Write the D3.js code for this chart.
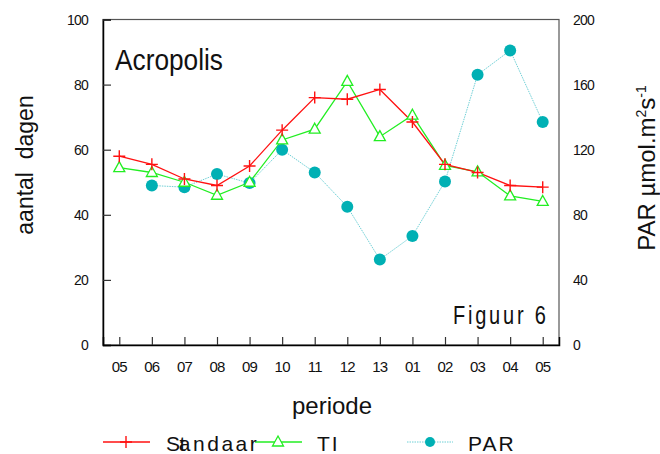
<!DOCTYPE html>
<html>
<head>
<meta charset="utf-8">
<script src="https://cdn.jsdelivr.net/npm/d3@7"></script>
<style>
  body { margin: 0; background: #fff; }
  svg { display: block; font-family: "Liberation Sans", Arial, sans-serif; }
</style>
</head>
<body>
<svg></svg>
<script>
// periodes (maanden) langs de x-as
const periodes = ["05", "06", "07", "08", "09", "10", "11", "12", "13", "01", "02", "03", "04", "05"];
// aantal dagen per reeks
const standaard = [58, 55.5, 51, 49, 55, 66, 76, 75.5, 78.5, 68.5, 55.5, 53, 49, 48.5];
const ti = [54.5, 53, 50, 46, 50, 63, 66.3, 81, 64, 70.6, 55.2, 53.2, 45.8, 44.1];
// PAR in µmol.m-2s-1 (eerste periode geen meting)
const par = [null, 98, 97, 105, 99.5, 120, 106, 85, 52.5, 67, 100.5, 166, 181, 137];
const yTicks = [0, 20, 40, 60, 80, 100];
const parTicks = [0, 40, 80, 120, 160, 200];

const width = 660;
const height = 454;
const plotL = 103, plotR = 559, plotT = 19.5, plotB = 345;

let svg = d3.select("svg")
    .attr("width", width)
    .attr("height", height);

let x = d3.scalePoint()
    .domain(d3.range(periodes.length))
    .range([plotL, plotR])
    .padding(0.5);

let y = d3.scaleLinear().domain([0, 100]).range([plotB, plotT]);
let y2 = d3.scaleLinear().domain([0, 200]).range([plotB, plotT]);

// kader: boven en rechts grijs, links en onder zwart
svg.append("rect")
    .attr("x", plotL).attr("y", plotT)
    .attr("width", plotR - plotL).attr("height", plotB - plotT)
    .style("fill", "none")
    .style("stroke", "#555")
    .style("stroke-width", 1.2);

// linker as, ticks naar binnen
let yAxis = svg.append("g")
    .attr("transform", `translate(${plotL},0)`)
    .call(d3.axisRight(y).tickValues(yTicks).tickSize(8).tickFormat(""));
yAxis.select(".domain").attr("stroke", "#000").attr("stroke-width", 1.5);
yAxis.selectAll(".tick line").attr("stroke", "#333").attr("stroke-width", 1.2);

svg.append("g").selectAll("text")
    .data(yTicks)
    .join("text")
    .attr("x", 88)
    .attr("y", d => y(d) + 5)
    .attr("text-anchor", "end")
    .style("font-size", "14px")
    .style("letter-spacing", "-0.8px")
    .style("fill", "#111")
    .text(d => d);

// rechter as (PAR), alleen labels
svg.append("g").selectAll("text")
    .data(parTicks)
    .join("text")
    .attr("x", 573)
    .attr("y", d => y2(d) + 5)
    .style("font-size", "14px")
    .style("letter-spacing", "-0.8px")
    .style("fill", "#111")
    .text(d => d);

// onderste as, ticks naar binnen
let xAxis = svg.append("g")
    .attr("transform", `translate(0,${plotB})`)
    .call(d3.axisTop(x).tickSize(8).tickFormat(""));
xAxis.select(".domain").attr("stroke", "#000").attr("stroke-width", 1.5);
xAxis.selectAll(".tick line").attr("stroke", "#333").attr("stroke-width", 1.2);

svg.append("g").selectAll("text")
    .data(periodes)
    .join("text")
    .attr("x", (d, i) => x(i))
    .attr("y", 372)
    .attr("text-anchor", "middle")
    .style("font-size", "15px")
    .style("letter-spacing", "-0.8px")
    .style("fill", "#111")
    .text(d => d);

// lijnen
let line = d3.line()
    .defined(d => d.v != null)
    .x(d => x(d.i))
    .y(d => d.s(d.v));

let pts = (arr, s) => arr.map((v, i) => ({ i: i, v: v, s: s }));

svg.append("path")
    .attr("d", line(pts(par, y2).filter(d => d.v != null)))
    .style("fill", "none")
    .style("stroke", "#6fd0d6")
    .style("stroke-width", 1)
    .style("stroke-dasharray", "1.5,1");

svg.append("path")
    .attr("d", line(pts(ti, y)))
    .style("fill", "none")
    .style("stroke", "#22ee22")
    .style("stroke-width", 1.3);

svg.append("path")
    .attr("d", line(pts(standaard, y)))
    .style("fill", "none")
    .style("stroke", "#ff1111")
    .style("stroke-width", 1.3);

// markers
function plus(g, cx, cy) {
    g.append("path")
        .attr("d", `M${cx - 6},${cy}H${cx + 6}M${cx},${cy - 6}V${cy + 6}`)
        .style("stroke", "#ff1111")
        .style("stroke-width", 1.4)
        .style("fill", "none");
}
function triangle(g, cx, cy) {
    g.append("path")
        .attr("d", `M${cx},${cy - 6}L${cx + 5.5},${cy + 4}L${cx - 5.5},${cy + 4}Z`)
        .style("stroke", "#22ee22")
        .style("stroke-width", 1.3)
        .style("fill", "#fff");
}
function dot(g, cx, cy, r) {
    g.append("circle")
        .attr("cx", cx).attr("cy", cy).attr("r", r)
        .style("fill", "#00b0b4");
}

let marks = svg.append("g");
par.forEach((v, i) => { if (v != null) dot(marks, x(i), y2(v), 6); });
ti.forEach((v, i) => triangle(marks, x(i), y(v)));
standaard.forEach((v, i) => plus(marks, x(i), y(v)));

// titels in de grafiek
svg.append("text")
    .attr("x", 115).attr("y", 70)
    .attr("textLength", 108)
    .attr("lengthAdjust", "spacingAndGlyphs")
    .style("font-size", "30px")
    .style("fill", "#111")
    .text("Acropolis");

// smalle letters met wat extra spatiëring
svg.append("text")
    .attr("transform", "translate(453,324) scale(0.8,1)")
    .attr("textLength", 116)
    .attr("lengthAdjust", "spacing")
    .style("font-size", "25px")
    .style("fill", "#111")
    .text("Figuur 6");

// astitels
svg.append("text")
    .attr("x", 332).attr("y", 414)
    .attr("text-anchor", "middle")
    .style("font-size", "24px")
    .style("fill", "#111")
    .text("periode");

svg.append("text")
    .attr("transform", "translate(33,165) rotate(-90)")
    .attr("text-anchor", "middle")
    .style("font-size", "23px")
    .style("fill", "#111")
    .style("white-space", "pre")
    .text("aantal  dagen");

let parTitle = svg.append("text")
    .attr("transform", "translate(655,168) rotate(-90)")
    .attr("text-anchor", "middle")
    .style("font-size", "24px")
    .style("fill", "#111");
parTitle.append("tspan").text("PAR µmol.m");
parTitle.append("tspan").attr("dy", -9).style("font-size", "14px").text("2");
parTitle.append("tspan").attr("dy", 9).text("s");
parTitle.append("tspan").attr("dy", -9).style("font-size", "14px").text("-1");

// legenda
let legend = svg.append("g");
legend.append("line").attr("x1", 103).attr("x2", 150).attr("y1", 442).attr("y2", 442)
    .style("stroke", "#ff1111").style("stroke-width", 1.3);
plus(legend, 126, 442);
legend.append("line").attr("x1", 255).attr("x2", 302).attr("y1", 442).attr("y2", 442)
    .style("stroke", "#22ee22").style("stroke-width", 1.3);
triangle(legend, 278, 442);
legend.append("line").attr("x1", 407).attr("x2", 453).attr("y1", 442).attr("y2", 442)
    .style("stroke", "#6fd0d6").style("stroke-width", 1).style("stroke-dasharray", "1.5,1");
dot(legend, 430, 442, 5);

let leg1 = legend.append("text")
    .attr("x", 166).attr("y", 451)
    .style("font-size", "21px")
    .style("letter-spacing", "2.5px")
    .style("fill", "#111");
leg1.append("tspan").text("S");
leg1.append("tspan").attr("dx", -3).text("t");
leg1.append("tspan").attr("dx", -9).text("andaar");

legend.append("text")
    .attr("x", 317).attr("y", 451)
    .style("font-size", "21px")
    .style("letter-spacing", "2px")
    .style("fill", "#111")
    .text("TI");

legend.append("text")
    .attr("x", 468).attr("y", 451)
    .style("font-size", "21px")
    .style("letter-spacing", "2px")
    .style("fill", "#111")
    .text("PAR");
</script>
</body>
</html>
